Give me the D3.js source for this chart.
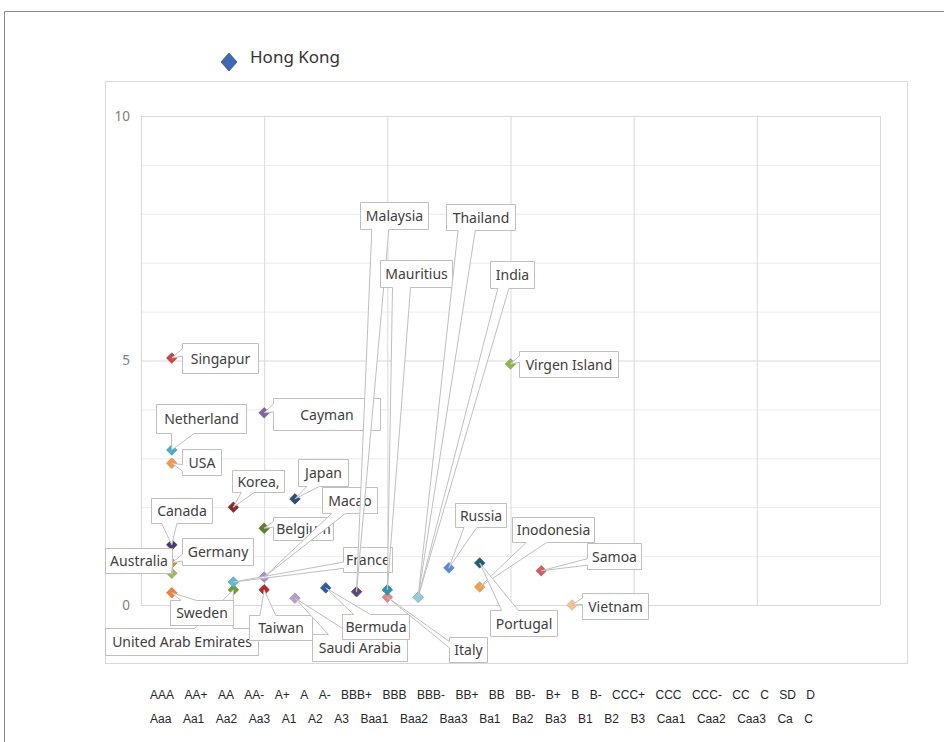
<!DOCTYPE html>
<html>
<head>
<meta charset="utf-8">
<script src="https://cdn.jsdelivr.net/npm/d3@7/dist/d3.min.js"></script>
<style>
  html, body { margin: 0; padding: 0; background: #fff; }
  svg { display: block; }
</style>
</head>
<body>
<svg id="chart" width="944" height="742"></svg>
<script>
// Countries in drawing order, their rating position (1 = AAA / Aaa) and plotted value
const countries = [
  "Singapur", "Netherland", "USA", "Canada", "Germany", "Australia",
  "United Arab Emirates", "Sweden", "Korea,", "France", "Cayman", "Belgium",
  "Macao", "Taiwan", "Japan", "Saudi Arabia", "Bermuda", "Italy",
  "Malaysia", "Mauritius", "Thailand", "India", "Russia", "Inodonesia",
  "Portugal", "Virgen Island", "Samoa", "Vietnam"
];
const ratingIndex = [
  1, 1, 1, 1, 1, 1,
  3, 1, 3, 3, 4, 4,
  4, 4, 5, 5, 6, 8,
  7, 8, 9, 9, 10, 11,
  11, 12, 13, 14
];
const values = [
  5.05, 3.17, 2.90, 1.23, 0.86, 0.65,
  0.31, 0.25, 2.00, 0.47, 3.93, 1.57,
  0.57, 0.31, 2.17, 0.14, 0.35, 0.16,
  0.27, 0.31, 0.16, 0.16, 0.76, 0.37,
  0.86, 4.93, 0.70, 0.00
];
const pointColors = [
  "#CC4448", "#4BACC6", "#F79646", "#4E3B6E", "#E8822F", "#9BBB59",
  "#6E9F3A", "#F07F3A", "#8B2A2A", "#5CBAD4", "#8064A2", "#5F7F32",
  "#A593C7", "#B22C2C", "#2C4D75", "#B3A2C7", "#2E5B9A", "#E0868A",
  "#5F497A", "#2E93B0", "#92CDDC", "#92CDDC", "#5A8ED0", "#F2A04E",
  "#1F5E6E", "#8DB650", "#D35E5E", "#FAC08F"
];

// Rating scales written under the plot
const spRatings = ["AAA", "AA+", "AA", "AA-", "A+", "A", "A-", "BBB+", "BBB", "BBB-",
  "BB+", "BB", "BB-", "B+", "B", "B-", "CCC+", "CCC", "CCC-", "CC", "C", "SD", "D"];
const moodysRatings = ["Aaa", "Aa1", "Aa2", "Aa3", "A1", "A2", "A3", "Baa1", "Baa2", "Baa3",
  "Ba1", "Ba2", "Ba3", "B1", "B2", "B3", "Caa1", "Caa2", "Caa3", "Ca", "C"];

const yTicks = [0, 5, 10];
const yMinorTicks = [1, 2, 3, 4, 6, 7, 8, 9];
const xTicks = [0, 4, 8, 12, 16, 20, 24];

const legendSeries = ["Hong Kong"];
const legendColors = ["#4169B0"];

// Callout box of each label: offset of its top-left corner from the point, width, height
const calloutBoxes = [
  [10, -15, 76, 30], [-16, -46, 90, 29], [10, -14, 39, 26], [-21, -47, 61, 25],
  [10, -25, 71, 27], [-67, -25, 67, 25], [-128, 38, 153, 27], [-2, 7, 63, 25],
  [-1, -37, 52, 22], [110, -35, 49, 25], [9, -15, 107, 32], [9, -11, 60, 23],
  [58, -90, 55, 26], [-15, 25, 63, 25], [3, -40, 50, 27], [17, 36, 95, 27],
  [16, 26, 67, 25], [62, 40, 38, 25], [3, -390, 68, 27], [-7, -330, 72, 27],
  [28, -393, 69, 26], [72, -336, 44, 27], [6, -65, 51, 24], [32, -70, 82, 25],
  [10, 47, 67, 26], [8, -13, 99, 26], [46, -28, 54, 26], [10, -12, 66, 26]
];

const svg = d3.select("#chart");
const labelFont = "'Noto Sans', 'DejaVu Sans', sans-serif";

// Outer frame and chart area
svg.append("path")
  .attr("d", "M4.5,742V11.5H944")
  .attr("fill", "none").attr("stroke", "#8c8c8c");
svg.append("rect")
  .attr("x", 105.5).attr("y", 81.5).attr("width", 802).attr("height", 582)
  .attr("fill", "#fff").attr("stroke", "#d9d9d9");

const plot = { left: 141, right: 880, top: 116, bottom: 605 };
const x = d3.scaleLinear().domain([0, 24]).range([plot.left, plot.right]);
const y = d3.scaleLinear().domain([0, 10]).range([plot.bottom, plot.top]);

// Gridlines
const gMinor = svg.append("g").attr("transform", `translate(${plot.left},0)`)
  .call(d3.axisLeft(y).tickValues(yMinorTicks).tickSize(-(plot.right - plot.left)).tickFormat(""));
gMinor.select(".domain").remove();
gMinor.selectAll("line").attr("stroke", "#ececec");

const gVert = svg.append("g").attr("transform", `translate(0,${plot.bottom})`)
  .call(d3.axisBottom(x).tickValues(xTicks).tickSize(-(plot.bottom - plot.top)).tickFormat(""));
gVert.select(".domain").remove();
gVert.selectAll("line").attr("stroke", "#d9d9d9");

const gMajor = svg.append("g").attr("transform", `translate(${plot.left},0)`)
  .call(d3.axisLeft(y).tickValues(yTicks).tickSize(-(plot.right - plot.left)).tickFormat(""));
gMajor.select(".domain").remove();
gMajor.selectAll("line").attr("stroke", "#d9d9d9");

// Value axis labels
const gY = svg.append("g").attr("transform", `translate(${plot.left},0)`)
  .call(d3.axisLeft(y).tickValues(yTicks).tickSize(0).tickPadding(11));
gY.select(".domain").remove();
gY.selectAll("text")
  .attr("font-family", labelFont).attr("font-size", 13.5).attr("fill", "#808080");

// Markers
const diamond = d3.symbol().type(d3.symbolSquare).size(56);
svg.append("g").selectAll("path")
  .data(countries.map((c, i) => i))
  .join("path")
  .attr("d", diamond)
  .attr("transform", i => `translate(${x(ratingIndex[i])},${y(values[i])}) rotate(45)`)
  .attr("fill", i => pointColors[i])
  .attr("stroke", i => d3.color(pointColors[i]).darker(0.4))
  .attr("stroke-width", 0.6);

// Rectangle callout with a wedge pointing at the marker
function calloutPath(l, t, w, h, tx, ty) {
  const r = l + w, b = t + h;
  const dx = tx - (l + w / 2), dy = ty - (t + h / 2);
  const dz = Math.abs(dy) - Math.abs(dx * h / w);
  const x1 = l + w * (dx > 0 ? 7 : 2) / 12, x2 = l + w * (dx > 0 ? 10 : 5) / 12;
  const y1 = t + h * (dy > 0 ? 7 : 2) / 12, y2 = t + h * (dy > 0 ? 10 : 5) / 12;
  const pts = [[l, t]];
  if (dz > 0 && dy < 0) pts.push([x1, t], [tx, ty], [x2, t]);
  pts.push([r, t]);
  if (dz <= 0 && dx > 0) pts.push([r, y1], [tx, ty], [r, y2]);
  pts.push([r, b]);
  if (dz > 0 && dy > 0) pts.push([x2, b], [tx, ty], [x1, b]);
  pts.push([l, b]);
  if (dz <= 0 && dx <= 0) pts.push([l, y2], [tx, ty], [l, y1]);
  return d3.line()(pts) + "Z";
}

const labels = svg.append("g").selectAll("g")
  .data(countries.map((c, i) => i))
  .join("g");
labels.each(function (i) {
  const px = x(ratingIndex[i]), py = y(values[i]);
  const [ox, oy, w, h] = calloutBoxes[i];
  const l = Math.round(px + ox) + 0.5, t = Math.round(py + oy) + 0.5;
  const g = d3.select(this);
  g.append("path")
    .attr("d", calloutPath(l, t, w, h, px, py))
    .attr("fill", "#fff").attr("stroke", "#bfbfbf").attr("stroke-width", 1)
    .attr("stroke-linejoin", "miter");
  g.append("text")
    .attr("x", l + w / 2).attr("y", t + h / 2 + 5)
    .attr("text-anchor", "middle")
    .attr("font-family", labelFont).attr("font-size", 14).attr("fill", "#404040")
    .text(countries[i]);
});

// Legend
const legend = svg.append("g").selectAll("g").data(legendSeries).join("g")
  .attr("transform", (d, i) => `translate(229,${62 + i * 24})`);
legend.append("path")
  .attr("d", "M0,-9L8,0L0,9L-8,0Z")
  .attr("fill", (d, i) => legendColors[i])
  .attr("stroke", (d, i) => d3.color(legendColors[i]).darker(0.6))
  .attr("stroke-width", 0.8);
legend.append("text")
  .attr("x", 21).attr("y", 1)
  .attr("font-family", labelFont).attr("font-size", 17).attr("fill", "#333")
  .text(d => d);

// Rating rows: spread each row evenly between its two ends
function ratingRow(items, left, right, baseline) {
  const g = svg.append("g");
  const texts = g.selectAll("text").data(items).join("text")
    .attr("y", baseline)
    .attr("font-family", "'Liberation Sans Narrow', 'Arial Narrow', 'Liberation Sans', Arial, sans-serif")
    .attr("font-size", 12).attr("fill", "#262626")
    .text(d => d);
  const widths = texts.nodes().map(n => n.getComputedTextLength());
  const gap = (right - left - d3.sum(widths)) / (items.length - 1);
  let cx = left;
  texts.attr("x", (d, i) => { const v = cx; cx += widths[i] + gap; return v; });
}
ratingRow(spRatings, 150, 815, 699);
ratingRow(moodysRatings, 150, 813, 723);
</script>
</body>
</html>
